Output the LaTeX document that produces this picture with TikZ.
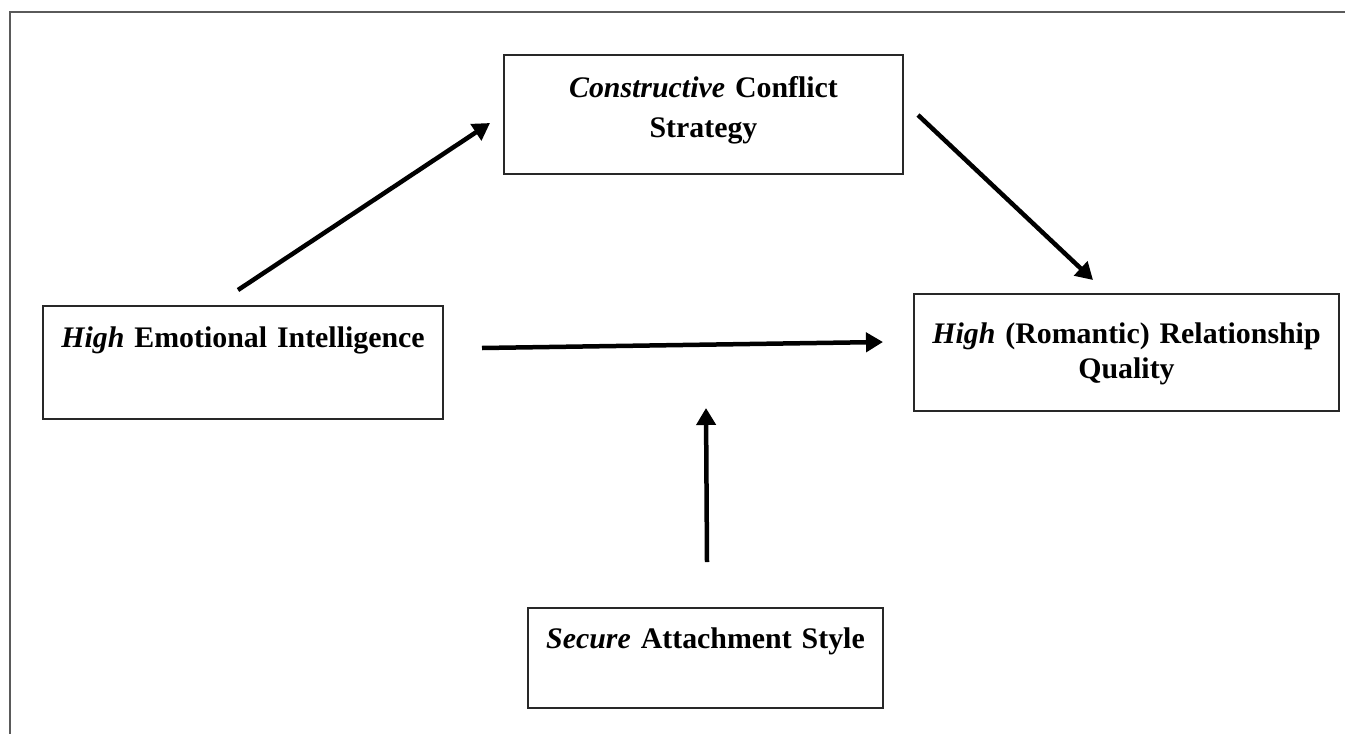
\documentclass[tikz,border=0pt]{standalone}
\usepackage{fontspec}
\setmainfont{Liberation Serif}
\usepackage{tikz}
\usetikzlibrary{arrows.meta,positioning,calc}
\definecolor{boxline}{RGB}{40,40,40}
\definecolor{frameline}{RGB}{90,90,90}
\tikzset{
  varbox/.style={
    rectangle, draw=boxline, line width=0.04cm, fill=white,
    inner sep=0pt, anchor=north, align=center,
    font=\fontsize{17}{22}\selectfont\bfseries
  },
  pathlink/.style={-{Triangle[length=0.34cm,width=0.38cm]}, line width=0.09cm, black},
  frame/.style={frameline, line width=0.04cm}
}
\begin{document}
\begin{tikzpicture}[x=0.02cm, y=-0.02cm]
  \useasboundingbox (0,0) rectangle (1345,734);
  \draw[frame] (1345,12) -- (10,12) -- (10,734);

  % Variables
  \node[varbox, text width=8cm, text height=0.86cm, text depth=1.52cm,
        font=\fontsize{17}{22.5}\selectfont\bfseries] (ccs) at (703.5,54)
        {\textit{Constructive} Conflict\\Strategy};
  \node[varbox, text width=8.5cm, text height=1.0cm, text depth=1.34cm,
        font=\fontsize{17}{19.5}\selectfont\bfseries] (rq) at (1126.5,293)
        {\textit{High} (Romantic) Relationship\\Quality};
  \node[varbox, text width=8cm, text height=0.84cm, text depth=1.42cm] (ei) at (243,305)
        {\textit{High} Emotional Intelligence};
  \node[varbox, text width=7.1cm, text height=0.8cm, text depth=1.2cm] (sas) at (705.5,607)
        {\textit{Secure} Attachment Style};

  % Arrow ends
  \coordinate (ei-up) at (238,290);
  \coordinate (ccs-in) at (490,123);
  \coordinate (ccs-out) at (918,115);
  \coordinate (rq-in) at (1093,280);
  \coordinate (ei-out) at (482,348);
  \coordinate (rq-left) at (883,342);
  \coordinate (sas-up) at (707,562);
  \coordinate (mod) at (706,408);

  % Paths
  \draw[pathlink] (ei-up) -- (ccs-in);
  \draw[pathlink] (ccs-out) -- (rq-in);
  \draw[pathlink] (ei-out) -- (rq-left);
  \draw[pathlink] (sas-up) -- (mod);
\end{tikzpicture}
\end{document}
